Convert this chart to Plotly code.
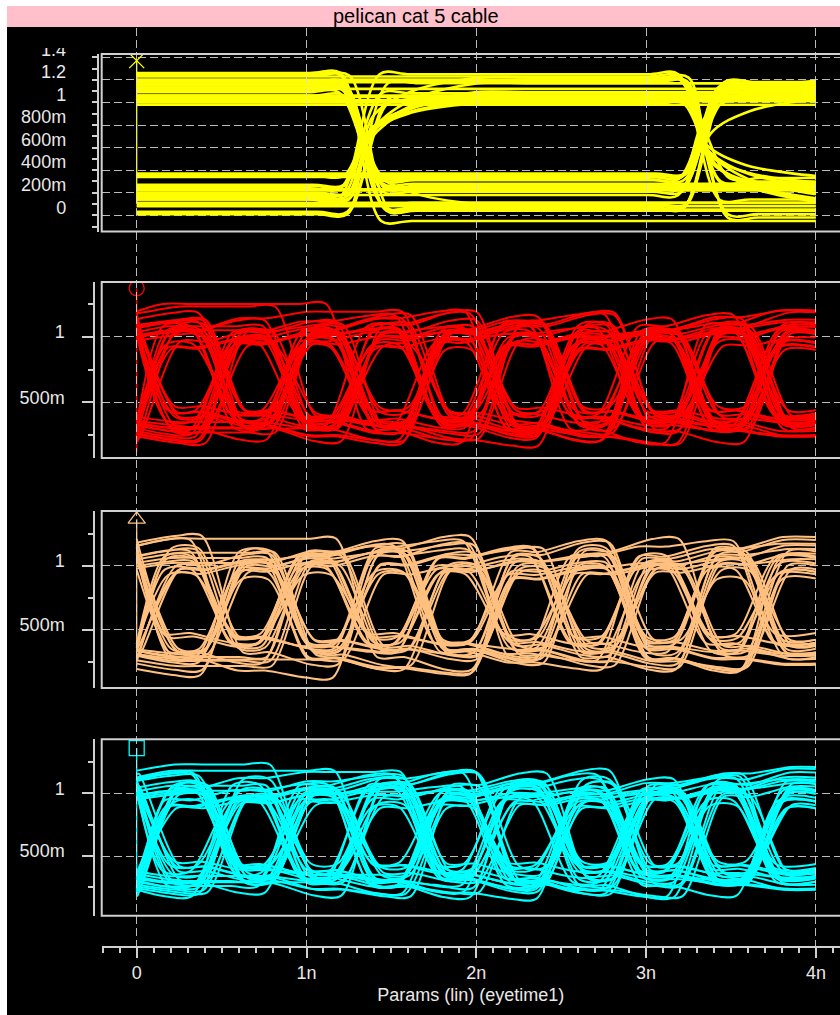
import plotly.graph_objects as go

# ---------------------------------------------------------------- signal data
# 2.5 Gb/s channels: bit period and first bit boundary inside the 4 ns window
BIT_NS = 0.4
FIRST_EDGE_NS = 0.085
WINDOW_NS = 4.0
# 500 Mb/s reference channel: bit boundaries inside the window
SLOW_EDGES_NS = [1.34, 3.34]

# captured bit sequences (one row per sweep through the eye window)
bit_patterns = [
    "01101001110", "10010110001", "11100100101", "00011011010", "01010011100",
    "10101100011", "11011000110", "00100111001", "01001101011", "10110010100",
    "11000101101", "00111010010", "01110010110", "10001101001", "11101011000",
    "00010100111", "01011100101", "10100011010", "11010110100", "00101001011",
    "01100111010", "10011000101", "11110010011", "00001101100", "01000110111",
    "10111001000", "11001011010", "00110100101", "01101110001", "10010001110",
    "11100011001", "00011100110", "01010110010", "10101001101", "11011101000",
    "00100010111", "01001010110", "10110101001", "11000110011", "00111001100",
    "01111001010", "10000110101", "11010011101", "00101100010",
]

# settled high / low levels (V) and edge skew (ns) per sweep
red_hi = [1.02, 1.15, 1.08, 1.21, 1.04, 1.12, 1.18, 1.06, 1.24, 1.10,
          1.01, 1.16, 1.09, 1.22, 1.05, 1.13, 1.19, 1.07, 1.11, 1.03,
          1.17, 1.14, 1.25, 1.08, 1.20, 1.05, 1.12, 1.16, 1.02, 1.10,
          1.23, 1.07, 1.15, 1.18, 1.04, 1.11, 1.21, 1.09, 1.13, 1.06,
          1.19, 1.14, 1.03, 1.17]
red_lo = [0.22, 0.31, 0.17, 0.27, 0.34, 0.19, 0.25, 0.29, 0.15, 0.33,
          0.21, 0.26, 0.18, 0.30, 0.24, 0.35, 0.16, 0.28, 0.20, 0.32,
          0.23, 0.27, 0.14, 0.30, 0.19, 0.25, 0.33, 0.21, 0.29, 0.17,
          0.26, 0.31, 0.23, 0.18, 0.34, 0.22, 0.28, 0.15, 0.32, 0.24,
          0.20, 0.36, 0.27, 0.19]
red_skew = [0.00, 0.03, -0.02, 0.05, -0.03, 0.02, 0.00, -0.05, 0.04, -0.02,
            0.01, -0.04, 0.05, 0.00, -0.02, 0.03, -0.03, 0.02, 0.00, 0.05,
            -0.01, 0.04, -0.05, 0.02, 0.00, -0.03, 0.03, 0.01, -0.02, 0.00,
            0.05, -0.04, 0.02, -0.01, 0.03, 0.00, -0.05, 0.01, 0.04, -0.02,
            0.00, 0.02, -0.03, 0.04]

orange_hi = [1.05, 1.18, 1.10, 1.24, 1.02, 1.14, 1.20, 1.08, 1.27, 1.12,
             1.03, 1.16, 1.09, 1.22, 1.06, 1.13, 1.19, 1.01, 1.11, 1.25,
             1.07, 1.15, 1.21, 1.04, 1.17, 1.10, 1.23, 1.06, 1.13, 1.19,
             1.02, 1.16, 1.08, 1.26, 1.12, 1.05]
orange_lo = [0.24, 0.33, 0.18, 0.29, 0.36, 0.21, 0.27, 0.15, 0.31, 0.23,
             0.34, 0.19, 0.26, 0.13, 0.30, 0.22, 0.35, 0.17, 0.28, 0.25,
             0.32, 0.20, 0.14, 0.27, 0.33, 0.23, 0.18, 0.30, 0.21, 0.36,
             0.16, 0.26, 0.29, 0.19, 0.24, 0.31]
orange_skew = [0.02, -0.03, 0.05, 0.00, -0.02, 0.03, -0.05, 0.01, 0.00, 0.04,
               -0.03, 0.02, 0.05, -0.01, 0.00, 0.03, -0.04, 0.01, -0.05, 0.00,
               0.04, -0.02, 0.01, 0.05, -0.03, 0.00, 0.02, -0.01, 0.03, -0.05,
               0.00, 0.02, -0.04, 0.03, -0.01, 0.05]

cyan_hi = [1.00, 1.13, 1.06, 1.19, 1.03, 1.10, 1.16, 1.04, 1.22, 1.08,
           0.99, 1.14, 1.07, 1.20, 1.02, 1.11, 1.17, 1.05, 1.09, 1.24,
           1.01, 1.12, 1.18, 1.06, 1.21, 1.03, 1.15, 1.09, 0.98, 1.13,
           1.23, 1.05, 1.11, 1.16, 1.02, 1.08, 1.19, 1.07, 1.14, 1.04,
           1.17, 1.10, 1.01, 1.21]
cyan_lo = [0.21, 0.30, 0.16, 0.26, 0.33, 0.18, 0.24, 0.28, 0.13, 0.32,
           0.20, 0.25, 0.17, 0.29, 0.23, 0.34, 0.15, 0.27, 0.19, 0.31,
           0.22, 0.26, 0.12, 0.29, 0.18, 0.24, 0.32, 0.20, 0.28, 0.16,
           0.25, 0.30, 0.22, 0.17, 0.33, 0.21, 0.27, 0.14, 0.31, 0.23,
           0.19, 0.35, 0.26, 0.18]
cyan_skew = [-0.02, 0.03, 0.00, -0.05, 0.02, 0.05, -0.03, 0.00, 0.04, -0.01,
             0.02, 0.00, -0.04, 0.05, 0.01, -0.02, 0.03, -0.05, 0.00, 0.02,
             -0.03, 0.04, 0.00, -0.02, 0.05, 0.01, -0.04, 0.00, 0.03, -0.01,
             0.02, -0.05, 0.04, 0.00, -0.02, 0.05, 0.01, -0.03, 0.00, 0.03,
             -0.01, 0.02, 0.05, -0.04]

yellow_bits = ["101", "110", "011", "100", "010", "001", "111", "000", "101", "110",
               "011", "100", "010", "001", "101", "110", "011", "100", "111", "000",
               "010", "101", "110", "011", "100", "001", "010", "101", "110", "011",
               "100", "010", "001", "111", "000", "101", "110", "011", "100", "010",
               "001", "101", "110", "011", "100", "010", "001", "111", "000", "101"]
yellow_hi = [1.02, 1.19, 1.08, 1.24, 0.99, 1.14, 1.05, 1.21, 1.11, 1.00,
             1.17, 1.06, 1.25, 1.12, 1.03, 1.20, 1.09, 1.15, 0.98, 1.22,
             1.07, 1.13, 1.18, 1.01, 1.26, 1.10, 1.04, 1.16, 1.23, 1.08,
             1.13, 0.99, 1.19, 1.06, 1.21, 1.11, 1.02, 1.17, 1.24, 1.05,
             1.14, 1.09, 1.20, 1.03, 1.15, 1.22, 1.07, 1.12, 1.00, 1.18]
yellow_lo = [0.31, 0.12, 0.24, 0.05, 0.35, 0.18, 0.28, 0.08, 0.21, 0.33,
             0.02, 0.26, 0.14, 0.37, 0.10, 0.29, 0.19, 0.04, 0.32, 0.23,
             0.15, 0.34, -0.02, 0.27, 0.11, 0.36, 0.20, 0.07, 0.30, 0.16,
             0.25, 0.01, 0.34, 0.13, 0.22, 0.06, 0.29, 0.17, -0.05, 0.26,
             0.09, 0.32, 0.19, 0.03, 0.28, 0.14, 0.36, 0.21, 0.11, 0.24]
# fraction of the swing still outstanding after the fast part of each edge
yellow_tail = [0.00, 0.35, 0.00, 0.00, 0.42, 0.00, 0.00, 0.30, 0.00, 0.00,
               0.38, 0.00, 0.00, 0.00, 0.33, 0.00, 0.44, 0.00, 0.00, 0.00,
               0.36, 0.00, 0.00, 0.40, 0.00, 0.00, 0.31, 0.00, 0.00, 0.45,
               0.00, 0.00, 0.37, 0.00, 0.00, 0.00, 0.34, 0.00, 0.00, 0.41,
               0.00, 0.00, 0.39, 0.00, 0.00, 0.32, 0.00, 0.00, 0.43, 0.00]
yellow_skew = [0.00, 0.02, -0.02, 0.03, 0.00, -0.03, 0.01, 0.00, -0.01, 0.03,
               0.02, 0.00, -0.03, 0.01, 0.02, -0.02, 0.00, 0.01, -0.03, 0.00,
               0.03, -0.01, 0.02, 0.00, -0.02, 0.01, 0.03, 0.00, -0.02, 0.01,
               0.00, 0.02, -0.01, 0.03, -0.03, 0.00, 0.01, 0.02, -0.02, 0.00,
               0.01, -0.03, 0.00, 0.02, -0.01, 0.03, 0.00, -0.02, 0.01, 0.00]

# trace marker level and the foot of the retrace line at t = 0 (V)
marker_level = {"yellow": 1.37, "red": 1.37, "orange": 1.36, "cyan": 1.36}
retrace_floor = {"yellow": 0.11, "red": 0.12, "orange": 0.21, "cyan": 0.19}

# axis tick labels
x_tickvals = [0, 1, 2, 3, 4]
x_ticktext = ["0", "1n", "2n", "3n", "4n"]
top_tickvals = [0, 0.2, 0.4, 0.6, 0.8, 1.0, 1.2, 1.4]
top_ticktext = ["0", "200m", "400m", "600m", "800m", "1", "1.2", "1.4"]
eye_tickvals = [0.5, 1.0]
eye_ticktext = ["500m", "1"]

# ---------------------------------------------------------------- waveform build
SETTLE = [0.72, 0.9, 1.0]   # fraction of full swing reached after 1, 2, 3+ equal bits
EDGE_HALF = 0.12            # half width of a 2.5 Gb/s edge (ns)
SLOW_EDGE_HALF = 0.12       # half width of the fast part of a 500 Mb/s edge (ns)
SLOW_HOLD = 0.3             # flat lead-in / lead-out around a 500 Mb/s edge (ns)


def fast_channel(hi, lo, skew, patterns):
    xs, ys = [], []
    for H, L, s, pat in zip(hi, lo, skew, patterns):
        mid = 0.5 * (H + L)
        n = len(pat)
        edges = [FIRST_EDGE_NS + s + BIT_NS * k for k in range(n - 1)]
        run = 2
        for k, b in enumerate(pat):
            if k > 0:
                run = run + 1 if b == pat[k - 1] else 1
            full = H if b == "1" else L
            lvl = mid + (full - mid) * SETTLE[min(run, len(SETTLE)) - 1]
            start = 0.0 if k == 0 else edges[k - 1] + EDGE_HALF
            end = WINDOW_NS if k == n - 1 else edges[k] - EDGE_HALF
            if end > start:
                xs += [start, end]
                ys += [lvl, lvl]
            else:
                xs.append(start)
                ys.append(lvl)
        xs.append(None)
        ys.append(None)
    return xs, ys


def slow_channel(hi, lo, tail, skew, patterns):
    xs, ys = [], []
    for H, L, tau, s, pat in zip(hi, lo, tail, skew, patterns):
        levels = [H if b == "1" else L for b in pat]
        px, py = [0.0], [levels[0]]
        for k, e in enumerate(SLOW_EDGES_NS):
            b = e + s
            v0, v1 = levels[k], levels[k + 1]
            px += [b - SLOW_HOLD, b - SLOW_EDGE_HALF]
            py += [v0, v0]
            if v0 == v1 or tau == 0:
                px += [b + SLOW_EDGE_HALF, b + SLOW_HOLD]
                py += [v1, v1]
            else:
                px += [b + 0.02, b + 0.25, b + 0.65, b + 0.65 + SLOW_HOLD]
                py += [v0 + (v1 - v0) * (1 - tau),
                       v0 + (v1 - v0) * (1 - 0.35 * tau), v1, v1]
        keep = [i for i, t in enumerate(px) if t < WINDOW_NS]
        xs += [px[i] for i in keep] + [WINDOW_NS, None]
        ys += [py[i] for i in keep] + [levels[-1], None]
    return xs, ys


# ---------------------------------------------------------------- layout geometry
W, H = 840, 1015
X0_PX, PX_PER_NS = 136.7, 169.8
PLOT_LEFT_PX = 101.7


def px_x(p):
    return p / W


def px_y(p):
    return 1 - p / H


x_range = [(PLOT_LEFT_PX - X0_PX) / PX_PER_NS, (W - X0_PX) / PX_PER_NS]

FONT = "Liberation Sans, Arial, sans-serif"
TICK_SIZE = 18
TITLE_SIZE = 20
GRID = "rgba(220,220,220,0.85)"
FRAME = "#d0d0d0"
TEXT = "#e8e8e8"

panels = [
    dict(name="yellow", color="#ffff00", symbol="x-thin-open", width=2.6, smooth=0.9,
         top=54, bottom=231.5, yr=[-0.1435, 1.429], axis_px=97.5,
         tv=top_tickvals, tt=top_ticktext, shift=-8, standoff=22,
         ticklen=5, minor=0.1, minorlen=5),
    dict(name="red", color="#ff0000", symbol="circle-open", width=2.0, smooth=0.8,
         top=282, bottom=458, yr=[0.0755, 1.417], axis_px=94,
         tv=eye_tickvals, tt=eye_ticktext, shift=-5, standoff=14,
         ticklen=11, minor=0.25, minorlen=5),
    dict(name="orange", color="#ffc080", symbol="triangle-up-open", width=2.0, smooth=0.8,
         top=511, bottom=688, yr=[0.049, 1.425], axis_px=94,
         tv=eye_tickvals, tt=eye_ticktext, shift=-5, standoff=14,
         ticklen=11, minor=0.25, minorlen=5),
    dict(name="cyan", color="#00ffff", symbol="square-open", width=2.0, smooth=0.8,
         top=739.3, bottom=915.7, yr=[0.024, 1.431], axis_px=94,
         tv=eye_tickvals, tt=eye_ticktext, shift=-5, standoff=14,
         ticklen=11, minor=0.25, minorlen=5),
]

waves = {
    "yellow": slow_channel(yellow_hi, yellow_lo, yellow_tail, yellow_skew, yellow_bits),
    "red": fast_channel(red_hi, red_lo, red_skew, bit_patterns),
    "orange": fast_channel(orange_hi, orange_lo, orange_skew, bit_patterns),
    "cyan": fast_channel(cyan_hi, cyan_lo, cyan_skew, bit_patterns),
}

# panels use subplots 1..4; subplot 5 carries the shared time grid and the
# time axis and is drawn last so its dashed grid sits over the traces
AX = ["", "2", "3", "4"]
GRID_AX = "5"

fig = go.Figure()

shapes = [
    dict(type="rect", xref="paper", yref="paper", x0=px_x(7), x1=1,
         y0=0, y1=px_y(27), fillcolor="black", line_width=0, layer="below"),
    dict(type="rect", xref="paper", yref="paper", x0=px_x(7), x1=1,
         y0=px_y(27), y1=px_y(6), fillcolor="#ffc0cb", line_width=0, layer="below"),
    # hides the upper half of the clipped top label
    dict(type="rect", xref="paper", yref="paper", x0=px_x(10), x1=px_x(90),
         y0=px_y(48), y1=px_y(28), fillcolor="black", line_width=0, layer="above"),
]

layout_axes = {}
for i, p in enumerate(panels):
    a = AX[i]
    xs, ys = waves[p["name"]]
    fig.add_trace(go.Scatter(
        x=xs, y=ys, xaxis=f"x{a}", yaxis=f"y{a}", mode="lines",
        line=dict(color=p["color"], width=p["width"], shape="spline",
                  smoothing=p["smooth"]),
        hoverinfo="skip", showlegend=False, connectgaps=False))
    fig.add_trace(go.Scatter(
        x=[0, 0], y=[marker_level[p["name"]], retrace_floor[p["name"]]],
        xaxis=f"x{a}", yaxis=f"y{a}", mode="lines",
        line=dict(color=p["color"], width=1.3), hoverinfo="skip", showlegend=False))
    fig.add_trace(go.Scatter(
        x=[0], y=[marker_level[p["name"]]], xaxis=f"x{a}", yaxis=f"y{a}",
        mode="markers",
        marker=dict(symbol=p["symbol"], size=15, color=p["color"],
                    line=dict(color=p["color"], width=1.3)),
        hoverinfo="skip", showlegend=False))

    layout_axes[f"xaxis{a}"] = dict(domain=[px_x(PLOT_LEFT_PX), 1], range=x_range,
                                    anchor=f"y{a}", visible=False, fixedrange=True)
    layout_axes[f"yaxis{a}"] = dict(
        domain=[px_y(p["bottom"]), px_y(p["top"])], range=p["yr"],
        anchor="free", position=px_x(p["axis_px"]), side="left",
        showline=True, linecolor=FRAME, linewidth=1.5,
        tickmode="array", tickvals=p["tv"], ticktext=p["tt"],
        ticks="outside", ticklen=p["ticklen"], tickcolor=FRAME, tickwidth=1.5,
        minor=dict(dtick=p["minor"], tick0=0, ticks="outside", ticklen=p["minorlen"],
                   tickcolor=FRAME, tickwidth=1.5, showgrid=False),
        showgrid=True, gridcolor=GRID, gridwidth=1.3, griddash="8px,4px",
        zeroline=False, ticklabelshift=p["shift"], ticklabelstandoff=p["standoff"],
        tickfont=dict(family=FONT, size=TICK_SIZE, color=TEXT),
        automargin=False, fixedrange=True)

    # panel frame (left, top and bottom edges; the right edge runs off the page)
    shapes.append(dict(
        type="path", xref="paper", yref="paper",
        path=(f"M 1,{px_y(p['top'])} L {px_x(PLOT_LEFT_PX)},{px_y(p['top'])} "
              f"L {px_x(PLOT_LEFT_PX)},{px_y(p['bottom'])} L 1,{px_y(p['bottom'])}"),
        line=dict(color=FRAME, width=2), layer="above"))

fig.add_trace(go.Scatter(x=[None], y=[None], xaxis=f"x{GRID_AX}", yaxis=f"y{GRID_AX}",
                         hoverinfo="skip", showlegend=False))
layout_axes[f"xaxis{GRID_AX}"] = dict(
    domain=[px_x(PLOT_LEFT_PX), 1], range=x_range, anchor=f"y{GRID_AX}",
    showgrid=True, gridcolor=GRID, gridwidth=1.3, griddash="8px,4px",
    tickmode="array", tickvals=x_tickvals, ticktext=x_ticktext,
    ticks="outside", ticklen=10, tickcolor=FRAME, tickwidth=1.5,
    minor=dict(dtick=0.1, tick0=0, ticks="outside", ticklen=5,
               tickcolor=FRAME, tickwidth=1.5, showgrid=False),
    showline=True, linecolor=FRAME, linewidth=1.5, zeroline=False,
    tickfont=dict(family=FONT, size=TICK_SIZE, color=TEXT),
    ticklabelstandoff=0,
    title=dict(text="Params (lin) (eyetime1)", standoff=6,
               font=dict(family=FONT, size=TICK_SIZE, color=TEXT)),
    automargin=False, fixedrange=True)
layout_axes[f"yaxis{GRID_AX}"] = dict(domain=[px_y(946), px_y(28)], range=[0, 1],
                                      visible=False, fixedrange=True)

fig.update_layout(
    width=W, height=H, autosize=False,
    margin=dict(l=0, r=0, t=0, b=0, pad=0),
    paper_bgcolor="white", plot_bgcolor="rgba(0,0,0,0)",
    showlegend=False,
    shapes=shapes,
    annotations=[dict(text="pelican cat 5 cable", xref="paper", yref="paper",
                      x=px_x(416), y=px_y(16.5), xanchor="center", yanchor="middle",
                      showarrow=False,
                      font=dict(family=FONT, size=TITLE_SIZE, color="black"))],
    **layout_axes,
)

fig.write_html("out.html", config={"displayModeBar": False})
